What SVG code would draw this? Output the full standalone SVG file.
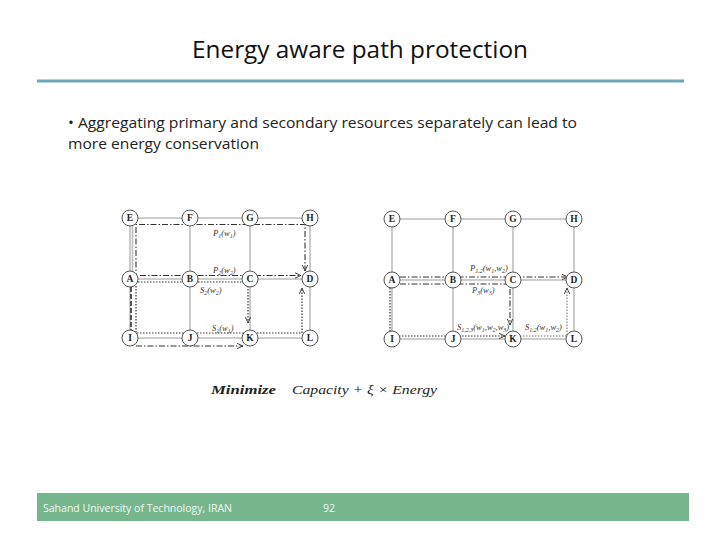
<svg xmlns="http://www.w3.org/2000/svg" width="720" height="540" viewBox="0 0 720 540">
<style>
.grid{stroke:#bdbdbd;stroke-width:1.6;fill:none}
.node circle{fill:#fff;stroke:#555;stroke-width:1}
.node text{font-family:"Liberation Serif",serif;font-weight:bold;font-size:9.5px;fill:#222;text-anchor:middle}
.dd{stroke:#333;stroke-width:1.1;fill:none;stroke-dasharray:6 2 1.5 2}
.dt{stroke:#333;stroke-width:1.2;fill:none;stroke-dasharray:1.5 1.5}
.dtl{stroke:#777;stroke-width:1.1;fill:none;stroke-dasharray:1.5 1.5}
.lbl{font-family:"Liberation Serif",serif;font-style:italic;font-size:8.5px;fill:#333}
.sb{font-size:6px}
</style>
<defs>
<marker id="arr" viewBox="0 0 10 10" refX="9" refY="5" markerWidth="7" markerHeight="7" orient="auto" markerUnits="userSpaceOnUse">
<path d="M0,1 L9,5 L0,9" fill="none" stroke="#333" stroke-width="1.3"/>
</marker>
</defs>
<rect width="720" height="540" fill="#fff"/>
<text x="360" y="58" font-family="Open Sans, Liberation Sans, sans-serif" font-size="23" fill="#111" text-anchor="middle" textLength="336" lengthAdjust="spacingAndGlyphs">Energy aware path protection</text>
<line x1="37" y1="81" x2="684" y2="81" stroke="#6ea6b6" stroke-width="3"/>
<text x="68" y="128" font-family="Open Sans, Liberation Sans, sans-serif" font-size="15" fill="#222" textLength="509" lengthAdjust="spacingAndGlyphs">• Aggregating primary and secondary resources separately can lead to</text>
<text x="68" y="149" font-family="Open Sans, Liberation Sans, sans-serif" font-size="15" fill="#222" textLength="191" lengthAdjust="spacingAndGlyphs">more energy conservation</text>

<g id="grid-left">
<path class="grid" d="M130,218H310M130,279H310M130,338H310M130,218V338M190,218V338M250,218V338M310,218V338"/>
<line x1="132.5" y1="218" x2="132.5" y2="279" stroke="#bdbdbd" stroke-width="1.6"/>
</g>
<g id="grid-right">
<path class="grid" d="M392,219H574M392,280H574M392,339H574M392,219V339M453,219V339M513,219V339M574,219V339"/>
</g>

<g id="connectors">
<path class="dd" d="M136,279V224.5H305V271" marker-end="url(#arr)"/>
<path class="dd" d="M140,275.5H301" marker-end="url(#arr)"/>
<path d="M131,287V330" stroke="#333" stroke-width="1.6" stroke-dasharray="5 2" fill="none"/>
<path class="dd" d="M136,346H243" marker-end="url(#arr)"/>
<path class="dt" d="M138,282H248V323" marker-end="url(#arr)"/>
<path class="dt" d="M136,286V333H302V288" marker-end="url(#arr)"/>
<path class="dd" d="M400,277H568" marker-end="url(#arr)"/>
<path class="dd" d="M400,284H510V325" marker-end="url(#arr)"/>
<path class="dt" d="M390,288V336H505" marker-end="url(#arr)"/>
<path class="dtl" d="M520,336H567V288" marker-end="url(#arr)"/>
</g>

<g id="labels">
<text class="lbl" x="213" y="236">P<tspan class="sb" dy="1.5">1</tspan><tspan dy="-1.5">(w</tspan><tspan class="sb" dy="1.5">1</tspan><tspan dy="-1.5">)</tspan></text>
<text class="lbl" x="213" y="273">P<tspan class="sb" dy="1.5">2</tspan><tspan dy="-1.5">(w</tspan><tspan class="sb" dy="1.5">2</tspan><tspan dy="-1.5">)</tspan></text>
<text class="lbl" x="200" y="293">S<tspan class="sb" dy="1.5">2</tspan><tspan dy="-1.5">(w</tspan><tspan class="sb" dy="1.5">2</tspan><tspan dy="-1.5">)</tspan></text>
<text class="lbl" x="212" y="331">S<tspan class="sb" dy="1.5">1</tspan><tspan dy="-1.5">(w</tspan><tspan class="sb" dy="1.5">1</tspan><tspan dy="-1.5">)</tspan></text>
<text class="lbl" x="470" y="271">P<tspan class="sb" dy="1.5">1,2</tspan><tspan dy="-1.5">(w</tspan><tspan class="sb" dy="1.5">1</tspan><tspan dy="-1.5">,w</tspan><tspan class="sb" dy="1.5">2</tspan><tspan dy="-1.5">)</tspan></text>
<text class="lbl" x="472" y="293" style="fill:#2b3b66">P<tspan class="sb" dy="1.5">3</tspan><tspan dy="-1.5">(w</tspan><tspan class="sb" dy="1.5">3</tspan><tspan dy="-1.5">)</tspan></text>
<text class="lbl" x="457" y="330">S<tspan class="sb" dy="1.5">1,2,3</tspan><tspan dy="-1.5">(w</tspan><tspan class="sb" dy="1.5">1</tspan><tspan dy="-1.5">,w</tspan><tspan class="sb" dy="1.5">2</tspan><tspan dy="-1.5">,w</tspan><tspan class="sb" dy="1.5">3</tspan><tspan dy="-1.5">)</tspan></text>
<text class="lbl" x="525" y="330">S<tspan class="sb" dy="1.5">1,2</tspan><tspan dy="-1.5">(w</tspan><tspan class="sb" dy="1.5">1</tspan><tspan dy="-1.5">,w</tspan><tspan class="sb" dy="1.5">2</tspan><tspan dy="-1.5">)</tspan></text>
</g>

<g id="L-E" class="node"><circle cx="130" cy="218" r="8"/><text x="130" y="221.4">E</text></g>
<g id="L-F" class="node"><circle cx="190" cy="218" r="8"/><text x="190" y="221.4">F</text></g>
<g id="L-G" class="node"><circle cx="250" cy="218" r="8"/><text x="250" y="221.4">G</text></g>
<g id="L-H" class="node"><circle cx="310" cy="218" r="8"/><text x="310" y="221.4">H</text></g>
<g id="L-A" class="node"><circle cx="130" cy="279" r="8"/><text x="130" y="282.4">A</text></g>
<g id="L-B" class="node"><circle cx="190" cy="279" r="8"/><text x="190" y="282.4">B</text></g>
<g id="L-C" class="node"><circle cx="250" cy="279" r="8"/><text x="250" y="282.4">C</text></g>
<g id="L-D" class="node"><circle cx="310" cy="279" r="8"/><text x="310" y="282.4">D</text></g>
<g id="L-I" class="node"><circle cx="130" cy="338" r="8"/><text x="130" y="341.4">I</text></g>
<g id="L-J" class="node"><circle cx="190" cy="338" r="8"/><text x="190" y="341.4">J</text></g>
<g id="L-K" class="node"><circle cx="250" cy="338" r="8"/><text x="250" y="341.4">K</text></g>
<g id="L-L" class="node"><circle cx="310" cy="338" r="8"/><text x="310" y="341.4">L</text></g>
<g id="R-E" class="node"><circle cx="392" cy="219" r="8"/><text x="392" y="222.4">E</text></g>
<g id="R-F" class="node"><circle cx="453" cy="219" r="8"/><text x="453" y="222.4">F</text></g>
<g id="R-G" class="node"><circle cx="513" cy="219" r="8"/><text x="513" y="222.4">G</text></g>
<g id="R-H" class="node"><circle cx="574" cy="219" r="8"/><text x="574" y="222.4">H</text></g>
<g id="R-A" class="node"><circle cx="392" cy="280" r="8"/><text x="392" y="283.4">A</text></g>
<g id="R-B" class="node"><circle cx="453" cy="280" r="8"/><text x="453" y="283.4">B</text></g>
<g id="R-C" class="node"><circle cx="513" cy="280" r="8"/><text x="513" y="283.4">C</text></g>
<g id="R-D" class="node"><circle cx="574" cy="280" r="8"/><text x="574" y="283.4">D</text></g>
<g id="R-I" class="node"><circle cx="392" cy="339" r="8"/><text x="392" y="342.4">I</text></g>
<g id="R-J" class="node"><circle cx="453" cy="339" r="8"/><text x="453" y="342.4">J</text></g>
<g id="R-K" class="node"><circle cx="513" cy="339" r="8"/><text x="513" y="342.4">K</text></g>
<g id="R-L" class="node"><circle cx="574" cy="339" r="8"/><text x="574" y="342.4">L</text></g>

<text x="211" y="394" font-family="Liberation Serif, serif" font-weight="bold" font-style="italic" font-size="12.5" fill="#222" textLength="65" lengthAdjust="spacingAndGlyphs">Minimize</text>
<text x="292" y="394" font-family="Liberation Serif, serif" font-style="italic" font-size="13" fill="#222" textLength="145" lengthAdjust="spacingAndGlyphs">Capacity + ξ × Energy</text>

<rect x="37" y="493" width="652" height="28" fill="#75b68d"/>
<text x="43" y="512" font-family="Open Sans, Liberation Sans, sans-serif" font-size="10.5" fill="#f4f8f4" textLength="189" lengthAdjust="spacingAndGlyphs">Sahand University of Technology, IRAN</text>
<text x="323" y="512" font-family="Open Sans, Liberation Sans, sans-serif" font-size="10.5" fill="#f4f8f4">92</text>
</svg>
